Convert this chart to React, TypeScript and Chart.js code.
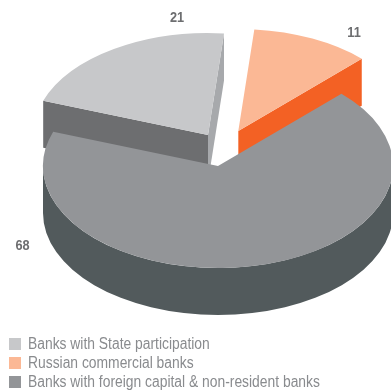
import React, { useEffect, useRef } from "react";
import { Chart, registerables } from "chart.js";

Chart.register(...registerables);

const categories = [
  "Banks with State participation",
  "Russian commercial banks",
  "Banks with foreign capital & non-resident banks",
];
const shares = [21, 11, 68];

const topColors = ["#c7c8ca", "#fbb895", "#939598"];
const startWallColors = ["#6d6e70", null, null];
const endWallColors = ["#a7a9ac", "#f36124", null];
const rimColors = [null, null, "#525a5c"];
const sliceShifts = [
  [-10, -31],
  [20.3, -35],
  [0, 0],
];
const labelAnchors = [
  [177, 18],
  [354, 33],
  [22.5, 246],
];

const PIE_RADIUS = 175;
const SQUASH = 0.583;
const DEPTH = 47;
const LABEL_FONT = 'bold 15px "Liberation Sans", sans-serif';
const LABEL_CONDENSE = 0.85;
const LEGEND_CONDENSE = 0.866;

// Tilts each slice of the pie into an ellipse and extrudes the visible walls.
const tiltedPie = {
  id: "tiltedPie",
  beforeDatasetDraw(chart: any) {
    const { ctx } = chart;
    chart.getDatasetMeta(0).data.forEach((arc: any, i: number) => {
      const { x, y, startAngle, endAngle, outerRadius: r } = arc;
      const cx = x + sliceShifts[i][0];
      const cy = y + sliceShifts[i][1];
      const rim = (a: number) => [cx + r * Math.cos(a), cy + r * SQUASH * Math.sin(a)];

      const radialWall = (a: number, color: string | null) => {
        if (!color) return;
        const [px, py] = rim(a);
        ctx.fillStyle = color;
        ctx.beginPath();
        ctx.moveTo(cx, cy);
        ctx.lineTo(px, py);
        ctx.lineTo(px, py + DEPTH);
        ctx.lineTo(cx, cy + DEPTH);
        ctx.closePath();
        ctx.fill();
      };

      radialWall(startAngle, startWallColors[i]);
      radialWall(endAngle, endWallColors[i]);

      if (rimColors[i]) {
        ctx.fillStyle = rimColors[i];
        ctx.beginPath();
        ctx.ellipse(cx, cy, r, r * SQUASH, 0, 0, Math.PI);
        ctx.ellipse(cx, cy + DEPTH, r, r * SQUASH, 0, Math.PI, 0, true);
        ctx.closePath();
        ctx.fill();
      }

      ctx.save();
      ctx.translate(cx, cy);
      ctx.scale(1, SQUASH);
      ctx.translate(-x, -y);
      arc.draw(ctx);
      ctx.restore();
    });
    return false;
  },
  afterDraw(chart: any) {
    const { ctx } = chart;
    ctx.save();
    ctx.font = LABEL_FONT;
    ctx.fillStyle = "#6d6e70";
    ctx.textAlign = "center";
    ctx.textBaseline = "middle";
    shares.forEach((value, i) => {
      ctx.save();
      ctx.translate(labelAnchors[i][0], labelAnchors[i][1]);
      ctx.scale(LABEL_CONDENSE, 1);
      ctx.fillText(String(value), 0, 0);
      ctx.restore();
    });
    ctx.restore();
  },
};

export default function App() {
  const canvasRef = useRef<HTMLCanvasElement>(null);

  useEffect(() => {
    const chart = new Chart(canvasRef.current as HTMLCanvasElement, {
      type: "pie",
      data: {
        labels: categories,
        datasets: [{ data: shares, backgroundColor: topColors, borderWidth: 0, radius: PIE_RADIUS }],
      },
      options: {
        responsive: false,
        animation: false,
        rotation: 289.65,
        layout: { padding: { left: 45, right: 0, top: 0, bottom: 58 } },
        plugins: { legend: { display: false }, tooltip: { enabled: false } },
      },
      plugins: [tiltedPie],
    } as any);
    return () => chart.destroy();
  }, []);

  return (
    <div style={{ position: "absolute", left: 0, top: 0, width: 391, height: 390, overflow: "hidden", background: "#fff" }}>
      <canvas ref={canvasRef} width={391} height={390} style={{ display: "block" }} />
      <div style={{ position: "absolute", left: 9, top: 334.5 }}>
        {categories.map((name, i) => (
          <div
            key={name}
            style={{
              display: "flex",
              alignItems: "center",
              height: 19,
              font: '16px "Liberation Sans", sans-serif',
              color: "#898b8e",
              whiteSpace: "nowrap",
            }}
          >
            <span style={{ width: 12, height: 12, marginRight: 7, background: topColors[i], flex: "none" }} />
            <span style={{ display: "inline-block", transform: `scaleX(${LEGEND_CONDENSE})`, transformOrigin: "left center" }}>
              {name}
            </span>
          </div>
        ))}
      </div>
    </div>
  );
}
